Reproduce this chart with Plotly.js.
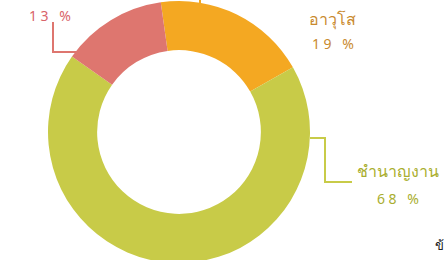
<!DOCTYPE html>
<html>
<head>
<meta charset="utf-8">
<script src="https://cdn.plot.ly/plotly-3.0.1.min.js"></script>
<style>
html,body{margin:0;padding:0;background:#fff;overflow:hidden;}
#chart{width:444px;height:270px;}
</style>
</head>
<body>
<div id="chart"></div>
<script>
// Data
const categories = ["อาวุโส", "ชำนาญงาน", "ปฏิบัติงาน"];
const percentValues = [19, 68, 13];
const sliceColors = ["#F4A822", "#C8CB48", "#DE766F"];
const labelColors = ["#C98A2E", "#A9AE2E", "#D9646A"];

const FONT = "Noto Sans, DejaVu Sans, sans-serif";

const trace = {
  type: "pie",
  labels: categories,
  values: percentValues,
  sort: false,
  direction: "clockwise",
  rotation: -8,
  hole: 0.625,
  textinfo: "none",
  hoverinfo: "none",
  marker: {colors: sliceColors, line: {width: 0}},
  domain: {x: [48/444, 310/444], y: [7/270, 269/270]},
  showlegend: false
};

// helper axis in pixel units for labels and leader lines
const dummy = {type: "scatter", x: [0, 444], y: [0, 270], mode: "markers",
  marker: {opacity: 0}, hoverinfo: "none", showlegend: false, xaxis: "x", yaxis: "y"};

function pct(i){ return String(percentValues[i]).split("").join("\u2005") + "\u2005\u2005 %"; }

const annotations = [
  {x: 332, y: 19, text: categories[0], font: {color: labelColors[0], size: 16, family: FONT}},
  {x: 333, y: 43, text: pct(0), font: {color: labelColors[0], size: 14, family: FONT}},
  {x: 398, y: 171, text: categories[1], font: {color: labelColors[1], size: 16, family: FONT}},
  {x: 398, y: 198, text: pct(1), font: {color: labelColors[1], size: 14, family: FONT}},
  {x: 50, y: -8, text: categories[2], font: {color: labelColors[2], size: 16, family: FONT}},
  {x: 50, y: 15, text: pct(2), font: {color: labelColors[2], size: 14, family: FONT}},
  {x: 433, y: 245, text: "ข้อมูล", xanchor: "left", font: {color: "#222", size: 13, family: FONT}}
].map(a => Object.assign({xref: "x", yref: "y", showarrow: false, xanchor: "center", yanchor: "middle"}, a));

const shapes = [
  {type: "path", path: "M 77 52 L 53 52 L 53 22", line: {color: sliceColors[2], width: 2}},
  {type: "path", path: "M 200 4 L 200 -10", line: {color: sliceColors[0], width: 2}},
  {type: "path", path: "M 310 138 L 325 138 L 325 182 L 352 182", line: {color: sliceColors[1], width: 2}}
].map(s => Object.assign({xref: "x", yref: "y", layer: "above"}, s));

const layout = {
  width: 444, height: 270,
  margin: {l: 0, r: 0, t: 0, b: 0},
  paper_bgcolor: "#fff", plot_bgcolor: "rgba(0,0,0,0)",
  xaxis: {range: [0, 444], visible: false, fixedrange: true},
  yaxis: {range: [270, 0], visible: false, fixedrange: true},
  annotations: annotations,
  shapes: shapes
};

Plotly.newPlot("chart", [trace, dummy], layout, {displayModeBar: false, staticPlot: true});
</script>
</body>
</html>
